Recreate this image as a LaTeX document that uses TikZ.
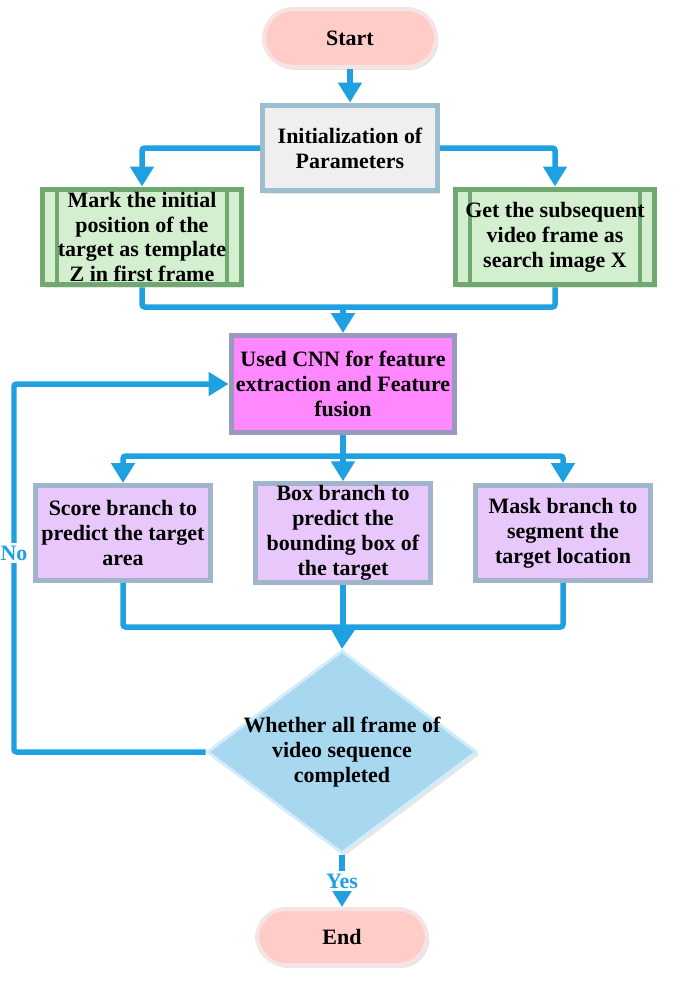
\documentclass[tikz,border=0pt]{standalone}
\usepackage{fontspec}
\setmainfont{Liberation Serif}
\usetikzlibrary{shapes.geometric, arrows.meta, positioning, shadows}

\definecolor{flowblue}{RGB}{30,160,225}
\definecolor{termfill}{RGB}{255,204,200}
\definecolor{termedge}{RGB}{246,228,228}
\definecolor{initfill}{RGB}{239,239,239}
\definecolor{initedge}{RGB}{157,190,206}
\definecolor{greenfill}{RGB}{212,238,208}
\definecolor{greenedge}{RGB}{112,168,112}
\definecolor{cnnfill}{RGB}{255,136,255}
\definecolor{cnnedge}{RGB}{150,155,190}
\definecolor{branchfill}{RGB}{232,200,250}
\definecolor{branchedge}{RGB}{160,180,204}
\definecolor{decfill}{RGB}{168,216,240}
\definecolor{decedge}{RGB}{212,236,248}

\begin{document}
\begin{tikzpicture}[
    x=0.02cm, y=-0.02cm,
    font=\bfseries\fontsize{12.5}{14.2}\selectfont,
    % --- Start / End ---
    terminal/.style={
        draw=termedge,
        fill=termfill,
        line width=0.08cm,
        rounded corners=0.58cm,
        align=center,
        minimum width=3.44cm,
        minimum height=1.16cm,
        drop shadow={opacity=0.2, shadow xshift=0.05cm, shadow yshift=-0.06cm}
    },
    % --- Plain process box ---
    process/.style={
        draw=initedge,
        fill=initfill,
        line width=0.1cm,
        align=center,
        inner sep=1pt,
        drop shadow={opacity=0.2, shadow xshift=0.05cm, shadow yshift=-0.06cm}
    },
    % --- Predefined process (double side bars) ---
    predef/.style={
        process,
        draw=greenedge,
        fill=greenfill,
        minimum width=4.0cm,
        minimum height=1.92cm,
        path picture={
            \draw[greenedge, line width=0.08cm]
                ([xshift=0.3cm]path picture bounding box.north west) --
                ([xshift=0.3cm]path picture bounding box.south west);
            \draw[greenedge, line width=0.08cm]
                ([xshift=-0.3cm]path picture bounding box.north east) --
                ([xshift=-0.3cm]path picture bounding box.south east);
        }
    },
    % --- Branch boxes ---
    branch/.style={
        process,
        draw=branchedge,
        fill=branchfill,
        minimum width=3.5cm,
        minimum height=1.9cm
    },
    % --- Decision ---
    decision/.style={
        diamond,
        draw=decedge,
        fill=decfill,
        line width=0.06cm,
        inner sep=0pt,
        minimum width=5.4cm,
        minimum height=4.06cm,
        drop shadow={opacity=0.2, shadow xshift=0.05cm, shadow yshift=-0.06cm}
    },
    % --- Connectors ---
    flow line/.style={
        draw=flowblue,
        line width=0.11cm,
        rounded corners=1.5pt
    },
    flow arrow/.style={
        flow line,
        -{Triangle[length=0.4cm, width=0.46cm]}
    },
    flow label/.style={
        fill=white,
        text=flowblue,
        inner sep=1.5pt,
        font=\bfseries\fontsize{12.5}{14}\selectfont
    }
]
    \useasboundingbox (0,0) rectangle (685,987);

    % =========================================
    % 1. START AND SETUP
    % =========================================
    \node[terminal] (start) at (350,38) {Start};

    \node[process, minimum width=3.5cm, minimum height=1.72cm] (init) at (350,148) {
        Initialization of \\ Parameters
    };

    \node[predef] (mark) at (142,237) {
        Mark the initial \\ position of the \\ target as template \\ Z in first frame
    };
    \node[predef] (get) at (555,237) {
        Get the subsequent \\ video frame as \\ search image X
    };

    % =========================================
    % 2. FEATURES AND BRANCHES
    % =========================================
    \node[process, draw=cnnedge, fill=cnnfill, minimum width=4.48cm, minimum height=1.94cm]
        (cnn) at (343,384) {
        Used CNN for feature \\ extraction and Feature \\ fusion
    };

    \node[branch] (score) at (123,533) {
        Score branch to \\ predict the target \\ area
    };
    \node[branch] (boxb) at (343,533) {
        Box branch to \\ predict the \\ bounding box of \\ the target
    };
    \node[branch] (mask) at (563,533) {
        Mask branch to \\ segment the \\ target location
    };

    % =========================================
    % 3. DECISION AND END
    % =========================================
    \node[decision, label={[align=center]center:Whether all frame of \\ video sequence \\ completed}]
        (dec) at (342,752) {};

    \node[terminal, minimum width=3.4cm, minimum height=1.12cm] (finish) at (342,937) {End};

    % Junction points
    \coordinate (merge) at (343,307);
    \coordinate (split) at (343,456);
    \coordinate (collect) at (343,627);
    \coordinate (back) at (14,553);

    % Connectors
    \draw[flow arrow] (start) -- (init);
    \draw[flow arrow] (init.west) -| (mark.north);
    \draw[flow arrow] (init.east) -| (get.north);

    \draw[flow line] (mark.south) |- (merge) -| (get.south);
    \draw[flow arrow] (merge) -- (cnn.north);

    \draw[flow line] (cnn.south) -- (split);
    \foreach \b in {score, boxb, mask}
        \draw[flow arrow] (split) -| (\b.north);

    \foreach \b in {score, boxb, mask}
        \draw[flow line] (\b.south) |- (collect);
    \draw[flow arrow] (collect) -- (dec.north);

    \draw[flow arrow] (dec.west) -| (back) node[flow label] {No} |- (cnn.west);
    \draw[flow arrow] (dec.south) -- (finish.north) node[flow label, midway] {Yes};

\end{tikzpicture}
\end{document}
